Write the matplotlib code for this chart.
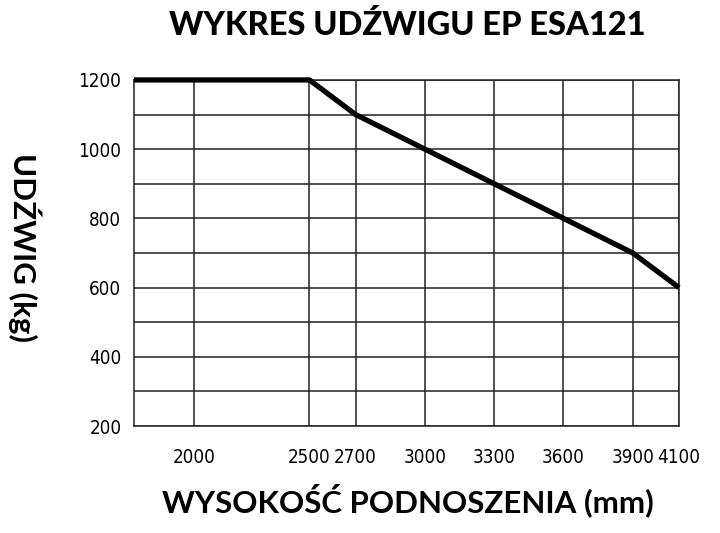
import matplotlib
matplotlib.use('Agg')
import matplotlib.pyplot as plt

# dane z wykresu udźwigu
wysokosc = [1740, 2500, 2700, 3000, 3300, 3600, 3900, 4100]
udzwig = [1200, 1200, 1100, 1000, 900, 800, 700, 600]
x_ticks = [2000, 2500, 2700, 3000, 3300, 3600, 3900, 4100]
y_ticks = [200, 400, 600, 800, 1000, 1200]
y_grid = [200, 300, 400, 500, 600, 700, 800, 900, 1000, 1100, 1200]

tick_font = ['DejaVu Sans']
label_font = ['Lato', 'DejaVu Sans']

fig = plt.figure(figsize=(7.2, 5.33), dpi=100)
ax = fig.add_axes([0.186, 0.2007, 0.757, 0.6493])

for yv in y_grid:
    ax.axhline(yv, color='#222222', linewidth=1.1, zorder=1)
for xv in x_ticks:
    ax.axvline(xv, color='#222222', linewidth=1.1, zorder=1)

ax.plot(wysokosc, udzwig, color='black', linewidth=3.8, solid_capstyle='butt',
        solid_joinstyle='miter', clip_on=False, zorder=3)

ax.set_xlim(1740, 4100)
ax.set_ylim(200, 1200)
for s in ax.spines.values():
    s.set_linewidth(1.1)
    s.set_color('#222222')

ax.set_xticks(x_ticks)
ax.set_xticklabels([str(v) for v in x_ticks], family=tick_font, fontsize=13.5,
                   fontstretch='condensed')
ax.set_yticks(y_ticks)
ax.set_yticklabels([str(v) for v in y_ticks], family=tick_font, fontsize=13.5,
                   fontstretch='condensed')
ax.tick_params(axis='x', length=0, pad=16)
ax.tick_params(axis='y', length=0, pad=9)

fig.text(0.566, 0.953, 'WYKRES UDŹWIGU EP ESA121', ha='center', va='center',
         family=label_font, fontsize=23.5, fontweight='black')
fig.text(0.566, 0.062, 'WYSOKOŚĆ PODNOSZENIA (mm)', ha='center', va='center',
         family=label_font, fontsize=22.5, fontweight='bold')
fig.text(0.035, 0.535, 'UDŹWIG (kg)', ha='center', va='center', rotation=270,
         family=label_font, fontsize=22.5, fontweight='bold')

fig.savefig('out.png', dpi=100)
